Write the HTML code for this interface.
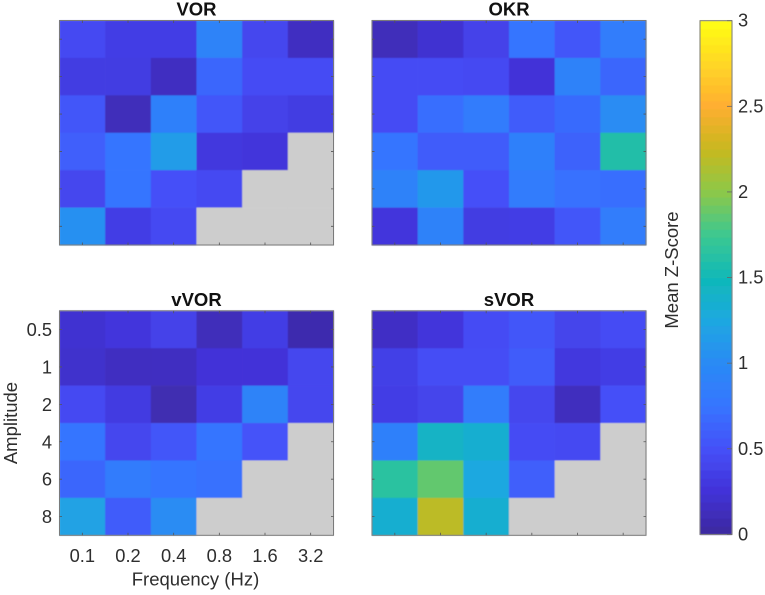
<!DOCTYPE html>
<html lang="en">
<head>
<meta charset="utf-8">
<title>Mean Z-Score heatmaps</title>
<style>
html,body{margin:0;padding:0;background:#fff;width:765px;height:595px;overflow:hidden}
svg{display:block}
text{font-family:"Liberation Sans",Arial,sans-serif;fill:#2e2e2e}
.tick{font-size:18.3px}
.axt{font-size:18.5px}
.ttl{font-size:18.5px;font-weight:bold;fill:#111}
</style>
</head>
<body>
<svg id="chart" width="765" height="595" viewBox="0 0 765 595" xmlns="http://www.w3.org/2000/svg">
<defs><filter id="soft" x="-2%" y="-2%" width="104%" height="104%"><feGaussianBlur stdDeviation="0.5"/></filter></defs>
<g id="plots"></g>
<g id="cbar"></g>
</svg>
<script>
var frequencies = ["0.1","0.2","0.4","0.8","1.6","3.2"];
var amplitudes = ["0.5","1","2","4","6","8"];
var colorbarTicks = ["0","0.5","1","1.5","2","2.5","3"];
var vorValues = [
[.45,.35,.35,.92,.42,.15],
[.33,.33,.15,.65,.47,.47],
[.55,.12,.88,.55,.38,.33],
[.6,.75,1.15,.3,.27,null],
[.42,.75,.5,.45,null,null],
[1.05,.35,.45,null,null,null]];
var okrValues = [
[.12,.22,.38,.75,.55,.85],
[.47,.47,.45,.25,.9,.65],
[.47,.7,.82,.58,.68,1.02],
[.75,.58,.58,.88,.62,1.6],
[.9,1.12,.5,.82,.72,.7],
[.28,.9,.33,.35,.55,.85]];
var vvorValues = [
[.22,.28,.38,.12,.35,.07],
[.2,.15,.15,.25,.25,.42],
[.45,.32,.08,.35,.92,.42],
[.75,.42,.55,.75,.52,null],
[.65,.82,.75,.72,null,null],
[1.2,.58,1.02,null,null,null]];
var svorValues = [
[.17,.27,.47,.55,.4,.47],
[.37,.48,.48,.58,.3,.35],
[.35,.4,.85,.42,.14,.5],
[.88,1.42,1.35,.47,.45,null],
[1.65,1.87,1.25,.6,null,null],
[1.35,2.2,1.35,null,null,null]];
var colormap = [[61,42,158],[66,50,216],[69,80,248],[53,117,255],[42,138,245],[30,168,224],[16,184,184],[60,200,144],[140,200,74],[200,184,30],[255,174,48],[255,215,39],[255,255,16]];
var colorMin = 0;
var colorMax = 3;

var NS = "http://www.w3.org/2000/svg";
var plotW = 274, plotH = 224.5;

function make(tag, attrs, parent, text) {
  var e = document.createElementNS(NS, tag);
  for (var k in attrs) e.setAttribute(k, attrs[k]);
  if (text !== undefined) e.textContent = text;
  parent.appendChild(e);
  return e;
}
function colorOf(v) {
  var t = (v - colorMin) / (colorMax - colorMin) * (colormap.length - 1);
  t = Math.max(0, Math.min(colormap.length - 1, t));
  var i = Math.min(Math.floor(t), colormap.length - 2), f = t - i;
  var a = colormap[i], b = colormap[i + 1];
  return "rgb(" + [0, 1, 2].map(function (c) { return Math.round(a[c] + (b[c] - a[c]) * f); }).join(",") + ")";
}
function drawPanel(name, title, values, x0, y0, showX, showY) {
  var root = document.getElementById("plots");
  var g = make("g", {}, root);
  
  
  var xScale = function (c) { return x0 + c * plotW / frequencies.length; };
  var yScale = function (r) { return y0 + r * plotH / amplitudes.length; };

  var t = make("text", { x: x0 + plotW / 2, y: y0 - 5, "text-anchor": "middle", "class": "ttl" }, g, title);
  
  

  var cells = make("g", { filter: "url(#soft)" }, g);
  
  
  values.forEach(function (row, r) {
    row.forEach(function (v, c) {
      var rect = make("rect", {
        x: xScale(c), y: yScale(r),
        width: plotW / frequencies.length + 0.3,
        height: plotH / amplitudes.length + 0.3,
        fill: v === null ? "#cdcdcd" : colorOf(v)
      }, cells);
      
      
    });
  });

  var frame = make("rect", { x: x0, y: y0, width: plotW, height: plotH, fill: "none", stroke: "#7a7a7a", "stroke-width": 1 }, g);
  
  

  frequencies.forEach(function (lab, c) {
    var x = xScale(c + 0.5);
    make("path", { d: "M" + x + " " + y0 + "v2.5M" + x + " " + (y0 + plotH) + "v-2.5", stroke: "#555", "stroke-width": 0.8, fill: "none" }, g);
    if (showX) {
      var l = make("text", { x: x, y: y0 + plotH + 26.5, "text-anchor": "middle", "class": "tick" }, g, lab);
      
      
    }
  });
  amplitudes.forEach(function (lab, r) {
    var y = yScale(r + 0.5);
    make("path", { d: "M" + x0 + " " + y + "h2.5M" + (x0 + plotW) + " " + y + "h-2.5", stroke: "#555", "stroke-width": 0.8, fill: "none" }, g);
    if (showY) {
      var l = make("text", { x: x0 - 7.5, y: y + 6.5, "text-anchor": "end", "class": "tick" }, g, lab);
      
      
    }
  });
  if (showX) {
    var xt = make("text", { x: x0 + plotW / 2 - 1, y: y0 + plotH + 50, "text-anchor": "middle", "class": "axt" }, g, "Frequency (Hz)");
    
    
  }
  if (showY) {
    var yt = make("text", { transform: "translate(17 " + (y0 + plotH / 2) + ") rotate(-90)", "text-anchor": "middle", "class": "axt" }, g, "Amplitude");
    
    
  }
}
function drawColorbar() {
  var g = document.getElementById("cbar");
  var x0 = 700, w = 32, yTop = 20.7, yBottom = 534.4;
  var yScale = function (v) { return yBottom + (v - colorMin) / (colorMax - colorMin) * (yTop - yBottom); };
  var steps = 64;
  var ramp = make("g", { filter: "url(#soft)" }, g);
  
  
  for (var i = 0; i < steps; i++) {
    var lo = colorMin + (colorMax - colorMin) * i / steps;
    var hi = colorMin + (colorMax - colorMin) * (i + 1) / steps;
    make("rect", { x: x0, y: yScale(hi), width: w, height: yScale(lo) - yScale(hi) + 0.4, fill: colorOf((lo + hi) / 2) }, ramp);
  }
  var frame = make("rect", { x: x0, y: yTop, width: w, height: yBottom - yTop, fill: "none", stroke: "#7a7a7a", "stroke-width": 1 }, g);
  
  
  colorbarTicks.forEach(function (lab) {
    var y = yScale(parseFloat(lab));
    make("path", { d: "M" + (x0 + w) + " " + y + "h-5", stroke: "#666", "stroke-width": 0.8, fill: "none" }, g);
    var l = make("text", { x: x0 + w + 6, y: y + 6, "class": "tick" }, g, lab);
    
    
  });
  var title = make("text", { transform: "translate(678 270) rotate(-90)", "text-anchor": "middle", "class": "axt" }, g, "Mean Z-Score");
  
  
}
drawPanel("vor", "VOR", vorValues, 59.5, 20.5, false, false);
drawPanel("okr", "OKR", okrValues, 372, 20.5, false, false);
drawPanel("vvor", "vVOR", vvorValues, 59.5, 310.8, true, true);
drawPanel("svor", "sVOR", svorValues, 372, 310.8, false, false);
drawColorbar();
</script>
</body>
</html>
